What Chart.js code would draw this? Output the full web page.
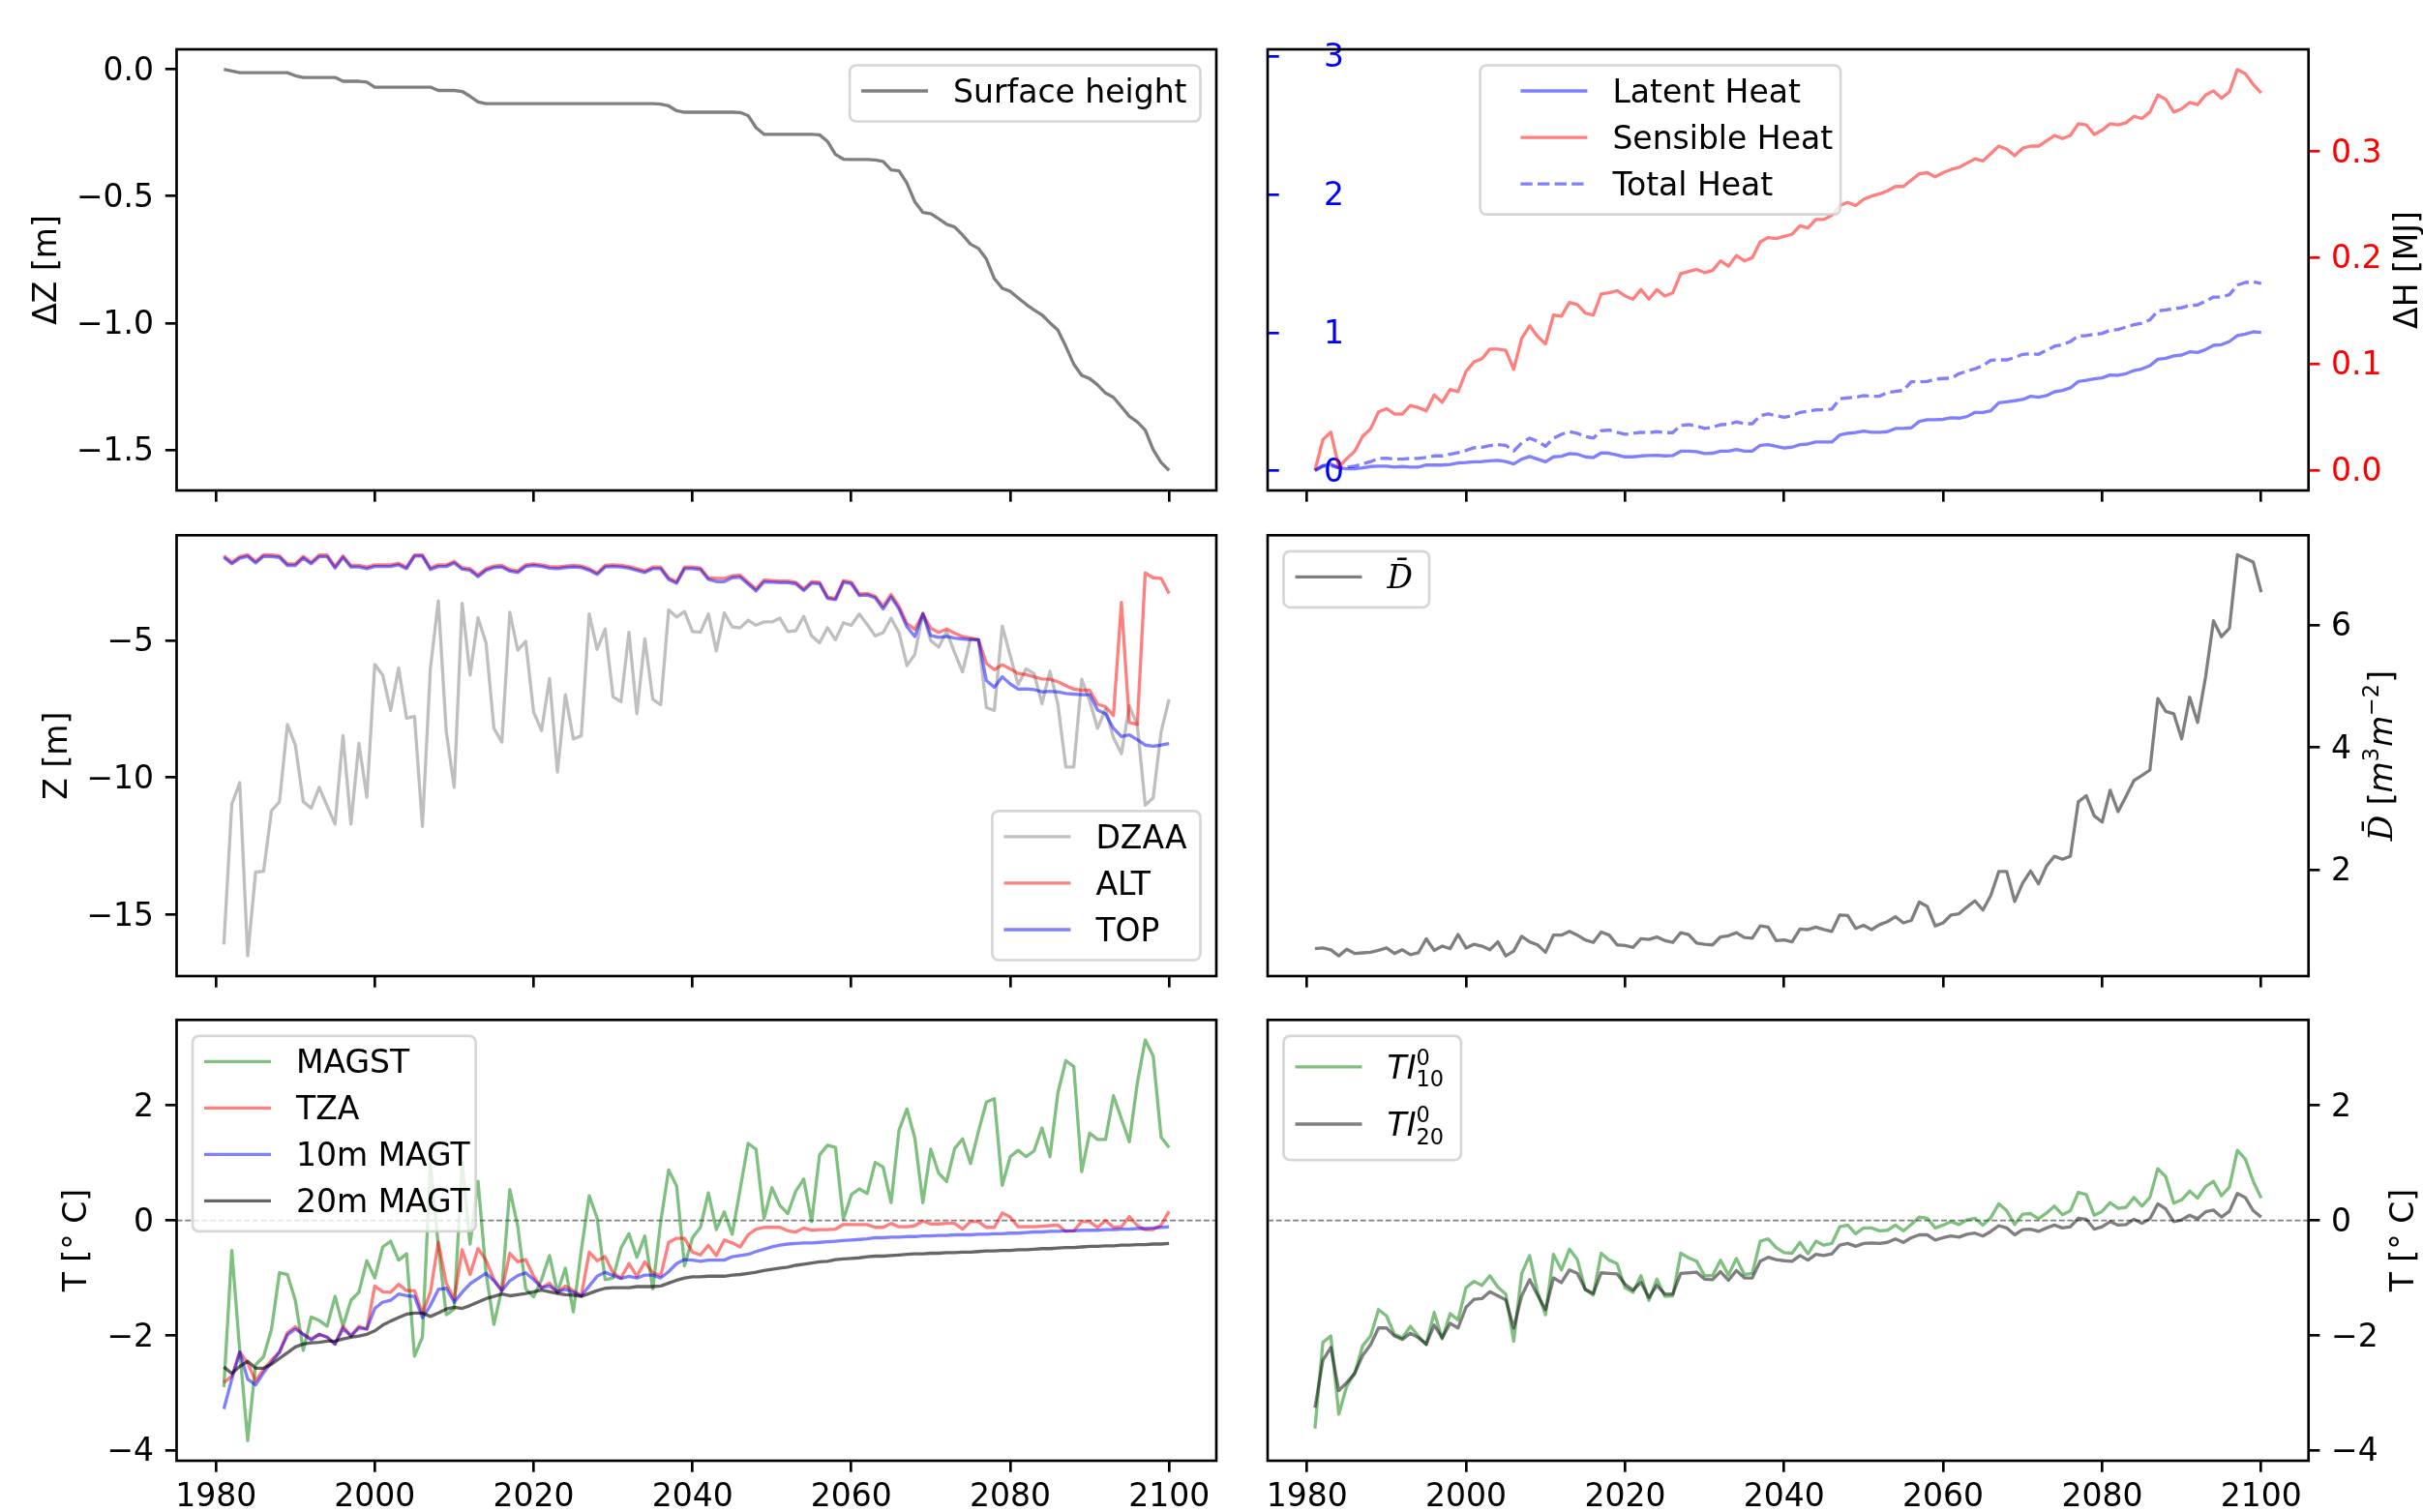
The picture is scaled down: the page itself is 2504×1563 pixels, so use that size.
<!DOCTYPE html>
<html><head><meta charset="utf-8">
<script src="https://cdn.jsdelivr.net/npm/chart.js@4.4.0/dist/chart.umd.min.js"></script>
<style>
html,body{margin:0;padding:0;background:#fff;}
body{width:2504px;height:1563px;position:relative;overflow:hidden;}
canvas{position:absolute;left:0;top:0;}
</style></head><body>
<canvas id="c1" width="2504" height="1563"></canvas>
<canvas id="c2" width="2504" height="1563"></canvas>
<canvas id="c3" width="2504" height="1563"></canvas>
<canvas id="c4" width="2504" height="1563"></canvas>
<canvas id="c5" width="2504" height="1563"></canvas>
<canvas id="c6" width="2504" height="1563"></canvas>
<script>
// ---------------- DATA ----------------
const YEARS = Array.from({length: 120}, (_, i) => 1981 + i);
const X_TICKS = [1980, 2000, 2020, 2040, 2060, 2080, 2100];

const SURFACE = [
0.000,-0.006,-0.013,-0.013,-0.013,-0.013,-0.013,-0.013,-0.013,-0.025,
-0.032,-0.032,-0.032,-0.032,-0.032,-0.047,-0.047,-0.047,-0.050,-0.070,
-0.070,-0.070,-0.070,-0.070,-0.070,-0.070,-0.070,-0.083,-0.083,-0.083,
-0.087,-0.106,-0.128,-0.135,-0.135,-0.135,-0.135,-0.135,-0.135,-0.135,
-0.135,-0.135,-0.135,-0.135,-0.135,-0.135,-0.135,-0.135,-0.135,-0.135,
-0.135,-0.135,-0.135,-0.135,-0.135,-0.137,-0.144,-0.163,-0.169,-0.169,
-0.169,-0.169,-0.169,-0.169,-0.169,-0.170,-0.182,-0.230,-0.256,-0.256,
-0.256,-0.256,-0.256,-0.256,-0.256,-0.258,-0.284,-0.335,-0.354,-0.355,
-0.355,-0.355,-0.357,-0.363,-0.396,-0.400,-0.449,-0.523,-0.564,-0.569,
-0.589,-0.611,-0.621,-0.653,-0.689,-0.706,-0.748,-0.825,-0.863,-0.875,
-0.901,-0.926,-0.948,-0.968,-0.999,-1.028,-1.092,-1.162,-1.206,-1.219,
-1.244,-1.276,-1.293,-1.330,-1.368,-1.390,-1.422,-1.499,-1.550,-1.581];

const LATENT = [
0.000,0.0045,0.006,0.0024,0.0015,0.0015,0.0024,0.0036,0.004,0.004,
0.003,0.0036,0.003,0.003,0.005,0.005,0.005,0.0055,0.007,0.0073,
0.008,0.0082,0.009,0.0094,0.0082,0.006,0.0106,0.013,0.0106,0.008,
0.0127,0.0133,0.0158,0.0152,0.0127,0.012,0.0164,0.0161,0.0145,0.0127,
0.0127,0.0136,0.0139,0.0142,0.0136,0.0139,0.018,0.018,0.0176,0.0158,
0.0161,0.018,0.018,0.0197,0.018,0.018,0.0236,0.0242,0.0227,0.021,
0.0218,0.0242,0.0248,0.0267,0.0267,0.0267,0.0333,0.0348,0.0355,0.037,
0.0358,0.0358,0.0364,0.0394,0.0394,0.04,0.046,0.0476,0.0476,0.048,
0.0494,0.0491,0.0506,0.0545,0.0545,0.056,0.0636,0.0645,0.0655,0.0667,
0.0697,0.0688,0.0703,0.0739,0.0752,0.0776,0.0836,0.0848,0.0861,0.087,
0.0897,0.0894,0.0909,0.0939,0.0955,0.0985,0.1045,0.1055,0.1076,0.1085,
0.1115,0.1109,0.1136,0.1176,0.1182,0.1212,0.1267,0.1282,0.1303,0.1297];

const SENSIBLE = [
0.000,0.029,0.036,0.003,0.011,0.018,0.032,0.039,0.055,0.058,
0.053,0.053,0.061,0.059,0.056,0.071,0.064,0.076,0.074,0.093,
0.102,0.105,0.114,0.114,0.113,0.095,0.124,0.136,0.126,0.119,
0.146,0.145,0.158,0.156,0.148,0.146,0.166,0.167,0.169,0.164,
0.161,0.170,0.161,0.170,0.164,0.167,0.185,0.187,0.189,0.186,
0.188,0.197,0.192,0.202,0.197,0.200,0.215,0.219,0.218,0.220,
0.222,0.230,0.228,0.236,0.236,0.240,0.249,0.252,0.249,0.255,
0.258,0.260,0.263,0.267,0.267,0.273,0.279,0.280,0.276,0.280,
0.283,0.285,0.289,0.293,0.291,0.298,0.305,0.302,0.296,0.303,
0.305,0.305,0.310,0.315,0.312,0.315,0.326,0.325,0.316,0.320,
0.326,0.325,0.327,0.333,0.331,0.337,0.353,0.349,0.337,0.340,
0.346,0.344,0.353,0.357,0.350,0.356,0.377,0.373,0.363,0.355];

const TOTAL = [
0.000,0.0039,0.0045,0.0024,0.003,0.0039,0.006,0.0082,0.0112,0.0115,
0.0106,0.0106,0.0112,0.0112,0.0121,0.0136,0.0136,0.0152,0.0167,0.0188,
0.0212,0.0218,0.0233,0.0242,0.0236,0.0182,0.0258,0.0303,0.0273,0.0227,
0.0303,0.0339,0.0364,0.0348,0.0318,0.0303,0.0373,0.0379,0.0358,0.0339,
0.0348,0.0358,0.0355,0.0364,0.0355,0.0355,0.0424,0.043,0.0418,0.0394,
0.0406,0.043,0.0433,0.0455,0.0439,0.0439,0.0515,0.053,0.0515,0.05,
0.0515,0.0545,0.0555,0.057,0.057,0.0576,0.0673,0.0682,0.0688,0.0703,
0.0697,0.0697,0.0733,0.0742,0.0752,0.0833,0.0833,0.0836,0.0858,0.0864,
0.0867,0.0909,0.0933,0.0955,0.0985,0.1036,0.1039,0.1039,0.1061,0.1091,
0.1097,0.1091,0.113,0.1167,0.1182,0.1212,0.1264,0.1267,0.1279,0.1288,
0.1318,0.1324,0.1348,0.137,0.1385,0.1415,0.150,0.1509,0.1521,0.153,
0.1552,0.1555,0.1591,0.163,0.163,0.1652,0.1742,0.1767,0.1773,0.1758];

const DZAA = [
-16.09,-10.98,-10.19,-16.5,-13.45,-13.42,-11.21,-10.89,-8.07,-8.82,
-10.88,-11.12,-10.36,-11.04,-11.7,-8.47,-11.7,-8.76,-10.72,-5.88,
-6.27,-7.56,-6.01,-7.84,-7.78,-11.78,-6.04,-3.56,-8.33,-10.36,
-3.65,-6.27,-4.18,-5.09,-8.21,-8.71,-3.98,-5.36,-5.04,-7.62,
-8.29,-6.39,-9.8,-6.98,-8.59,-8.48,-4.04,-5.33,-4.59,-7.06,
-7.24,-4.71,-7.68,-4.95,-7.15,-7.35,-3.89,-4.15,-3.95,-4.68,
-4.71,-4.04,-5.39,-4.0,-4.51,-4.55,-4.27,-4.45,-4.33,-4.33,
-4.19,-4.68,-4.65,-4.13,-4.84,-5.09,-4.54,-4.98,-4.36,-4.45,
-4.04,-4.42,-4.84,-4.72,-4.19,-4.72,-5.92,-5.51,-4.0,-5.01,
-5.25,-4.68,-5.45,-6.15,-4.94,-4.98,-7.45,-7.56,-4.48,-5.56,
-6.62,-6.04,-6.21,-7.31,-6.13,-7.33,-9.62,-9.62,-6.42,-7.21,
-8.21,-7.51,-8.56,-9.13,-7.39,-8.09,-11.01,-10.74,-8.33,-7.15];

const ALT = [
-1.92,-2.15,-1.95,-1.88,-2.12,-1.88,-1.89,-1.92,-2.21,-2.21,
-1.94,-2.15,-1.89,-1.89,-2.31,-1.92,-2.27,-2.27,-2.33,-2.25,
-2.25,-2.25,-2.19,-2.33,-1.89,-1.89,-2.36,-2.25,-2.25,-2.12,
-2.35,-2.39,-2.62,-2.39,-2.29,-2.27,-2.42,-2.47,-2.25,-2.21,
-2.25,-2.31,-2.33,-2.29,-2.27,-2.29,-2.39,-2.54,-2.27,-2.25,
-2.27,-2.31,-2.39,-2.47,-2.33,-2.33,-2.72,-2.86,-2.33,-2.33,
-2.36,-2.72,-2.74,-2.74,-2.65,-2.62,-2.88,-3.13,-2.80,-2.82,
-2.84,-2.84,-2.88,-3.13,-2.86,-2.88,-3.42,-3.47,-2.82,-2.88,
-3.31,-3.29,-3.39,-3.76,-3.33,-3.76,-4.39,-4.60,-4.04,-4.56,
-4.71,-4.59,-4.74,-4.86,-4.92,-4.98,-5.84,-6.07,-5.89,-6.04,
-6.21,-6.25,-6.33,-6.41,-6.42,-6.51,-6.65,-6.78,-6.82,-6.82,
-7.33,-7.42,-7.74,-3.62,-8.00,-8.07,-2.54,-2.72,-2.74,-3.29];

const TOP = [
-1.98,-2.21,-2.01,-1.94,-2.18,-1.94,-1.95,-1.98,-2.27,-2.27,
-2.00,-2.21,-1.95,-1.95,-2.37,-1.98,-2.33,-2.33,-2.39,-2.31,
-2.31,-2.31,-2.25,-2.39,-1.93,-1.93,-2.42,-2.31,-2.31,-2.18,
-2.41,-2.45,-2.68,-2.45,-2.35,-2.33,-2.48,-2.53,-2.31,-2.27,
-2.31,-2.37,-2.39,-2.35,-2.33,-2.35,-2.45,-2.60,-2.33,-2.31,
-2.33,-2.37,-2.45,-2.53,-2.39,-2.39,-2.78,-2.92,-2.39,-2.39,
-2.42,-2.78,-2.86,-2.86,-2.72,-2.70,-2.95,-3.20,-2.87,-2.88,
-2.90,-2.90,-2.94,-3.19,-2.92,-2.94,-3.47,-3.52,-2.88,-2.94,
-3.37,-3.35,-3.45,-3.86,-3.42,-3.86,-4.51,-4.86,-4.04,-4.82,
-4.89,-4.86,-4.92,-4.95,-4.98,-4.98,-6.47,-6.71,-6.33,-6.59,
-6.78,-6.77,-6.80,-6.88,-6.86,-6.88,-6.94,-6.96,-6.98,-6.98,
-7.54,-7.68,-8.21,-8.51,-8.45,-8.62,-8.82,-8.86,-8.82,-8.76];

const DBAR = [
0.71,0.72,0.69,0.59,0.70,0.63,0.64,0.65,0.68,0.72,
0.63,0.69,0.61,0.64,0.87,0.68,0.75,0.71,0.94,0.72,
0.78,0.75,0.69,0.82,0.59,0.67,0.91,0.82,0.77,0.65,
0.93,0.93,0.99,0.93,0.85,0.81,0.98,0.93,0.77,0.76,
0.73,0.87,0.86,0.90,0.84,0.81,0.97,0.94,0.80,0.78,
0.77,0.90,0.92,0.97,0.89,0.88,1.08,1.06,0.84,0.85,
0.82,1.03,1.02,1.06,1.02,0.99,1.26,1.25,1.04,1.09,
1.02,1.10,1.15,1.23,1.13,1.17,1.47,1.40,1.08,1.13,
1.26,1.28,1.39,1.49,1.34,1.58,1.97,1.97,1.48,1.78,
1.98,1.77,2.06,2.22,2.17,2.22,3.11,3.21,2.88,2.78,
3.30,2.95,3.20,3.46,3.54,3.63,4.80,4.59,4.55,4.14,
4.82,4.41,5.15,6.07,5.81,5.95,7.15,7.09,7.03,6.54];

const MAGST = [
-2.90,-0.52,-2.26,-3.83,-2.51,-2.37,-1.89,-0.91,-0.94,-1.39,
-2.26,-1.68,-1.74,-1.84,-1.32,-1.84,-1.39,-1.25,-0.70,-1.00,
-0.46,-0.36,-0.69,-0.58,-2.36,-2.03,0.99,-0.44,-1.64,-1.54,
1.02,-0.41,0.68,-0.91,-1.81,-1.19,0.54,-0.10,-1.19,-1.33,
-1.03,-0.61,-1.25,-0.83,-1.59,-0.52,0.43,0.04,-1.03,-1.00,
-0.48,-0.23,-0.64,-0.27,-1.19,-0.02,0.88,0.60,-0.79,-0.30,
-0.12,0.48,-0.16,0.15,-0.24,0.54,1.34,1.24,0.03,0.57,
0.26,0.12,0.51,0.72,-0.02,1.14,1.31,1.27,0.02,0.45,
0.55,0.47,1.01,0.93,0.31,1.57,1.94,1.43,0.31,1.24,
0.82,0.68,1.25,1.42,0.99,1.55,2.06,2.12,0.61,1.11,
1.22,1.11,1.21,1.61,1.11,2.22,2.78,2.68,0.85,1.52,
1.41,1.41,2.17,1.77,1.37,2.39,3.14,2.86,1.45,1.27];

const TZA = [
-2.82,-2.71,-2.29,-2.48,-2.79,-2.59,-2.43,-2.29,-1.95,-1.85,
-1.98,-2.06,-1.98,-2.03,-2.15,-1.84,-2.01,-1.84,-1.89,-1.14,
-1.24,-1.25,-1.11,-1.22,-1.22,-1.62,-1.25,-0.38,-1.09,-1.37,
-0.51,-0.94,-0.49,-0.69,-1.03,-1.22,-0.57,-0.72,-0.68,-0.97,
-1.17,-1.09,-1.25,-1.14,-1.22,-1.31,-0.55,-0.70,-0.63,-0.91,
-1.00,-0.75,-0.97,-0.72,-0.91,-0.96,-0.38,-0.31,-0.31,-0.55,
-0.60,-0.43,-0.61,-0.34,-0.39,-0.46,-0.25,-0.15,-0.12,-0.12,
-0.12,-0.18,-0.20,-0.13,-0.17,-0.16,-0.16,-0.15,-0.07,-0.07,
-0.07,-0.07,-0.12,-0.12,-0.05,-0.11,-0.11,-0.09,-0.01,-0.06,
-0.06,-0.05,-0.05,-0.15,-0.02,-0.02,-0.12,-0.12,0.13,0.06,
-0.11,-0.11,-0.11,-0.10,-0.09,-0.08,-0.19,-0.18,-0.02,-0.02,
-0.12,0.00,-0.12,-0.11,0.07,-0.09,-0.16,-0.16,-0.08,0.16];

const MAGT10 = [
-3.28,-2.76,-2.29,-2.76,-2.86,-2.65,-2.47,-2.29,-1.99,-1.89,
-1.98,-2.08,-1.98,-2.03,-2.15,-1.88,-2.01,-1.87,-1.89,-1.53,
-1.42,-1.39,-1.28,-1.31,-1.32,-1.69,-1.48,-1.20,-1.18,-1.42,
-1.25,-1.10,-1.01,-0.92,-1.05,-1.22,-1.05,-0.96,-0.91,-1.03,
-1.17,-1.14,-1.24,-1.20,-1.25,-1.31,-1.14,-0.97,-0.90,-0.96,
-1.01,-0.97,-1.00,-0.95,-0.95,-1.00,-0.89,-0.75,-0.68,-0.69,
-0.71,-0.69,-0.69,-0.69,-0.63,-0.61,-0.59,-0.54,-0.50,-0.46,
-0.43,-0.41,-0.40,-0.39,-0.39,-0.38,-0.37,-0.36,-0.35,-0.34,
-0.33,-0.32,-0.30,-0.30,-0.29,-0.29,-0.28,-0.28,-0.27,-0.27,
-0.26,-0.26,-0.25,-0.25,-0.25,-0.24,-0.24,-0.23,-0.23,-0.22,
-0.22,-0.21,-0.20,-0.20,-0.19,-0.19,-0.18,-0.18,-0.17,-0.17,
-0.17,-0.16,-0.16,-0.15,-0.15,-0.14,-0.14,-0.13,-0.12,-0.11];

const MAGT20 = [
-2.55,-2.66,-2.54,-2.45,-2.57,-2.57,-2.50,-2.40,-2.30,-2.20,
-2.15,-2.13,-2.12,-2.10,-2.10,-2.06,-2.03,-2.01,-1.98,-1.92,
-1.82,-1.75,-1.69,-1.63,-1.61,-1.61,-1.67,-1.61,-1.54,-1.51,
-1.53,-1.48,-1.42,-1.36,-1.32,-1.28,-1.31,-1.29,-1.27,-1.24,
-1.21,-1.24,-1.27,-1.29,-1.30,-1.32,-1.27,-1.22,-1.18,-1.17,
-1.17,-1.17,-1.15,-1.15,-1.15,-1.14,-1.09,-1.04,-1.00,-0.98,
-0.98,-0.97,-0.97,-0.97,-0.95,-0.94,-0.92,-0.90,-0.87,-0.85,
-0.83,-0.81,-0.78,-0.76,-0.74,-0.72,-0.71,-0.68,-0.67,-0.66,
-0.65,-0.63,-0.62,-0.62,-0.61,-0.60,-0.59,-0.58,-0.58,-0.57,
-0.57,-0.56,-0.56,-0.55,-0.55,-0.54,-0.53,-0.53,-0.52,-0.52,
-0.51,-0.51,-0.50,-0.49,-0.49,-0.48,-0.47,-0.47,-0.46,-0.45,
-0.45,-0.44,-0.44,-0.43,-0.43,-0.42,-0.42,-0.41,-0.41,-0.40];

const TI10 = [
-3.62,-2.12,-2.01,-3.37,-2.88,-2.66,-2.18,-2.01,-1.55,-1.66,
-1.98,-2.04,-1.84,-2.01,-2.16,-1.60,-2.06,-1.62,-1.73,-1.17,
-1.06,-1.13,-0.96,-1.16,-1.28,-2.10,-0.92,-0.61,-1.25,-1.64,
-0.59,-0.86,-0.50,-0.68,-1.20,-1.30,-0.57,-0.69,-0.75,-1.17,
-1.25,-0.96,-1.39,-1.02,-1.32,-1.31,-0.57,-0.65,-0.71,-0.96,
-0.96,-0.69,-0.95,-0.66,-0.94,-0.92,-0.36,-0.32,-0.47,-0.56,
-0.57,-0.38,-0.58,-0.36,-0.43,-0.40,-0.11,-0.08,-0.23,-0.13,
-0.13,-0.18,-0.17,-0.08,-0.18,-0.07,0.06,0.04,-0.13,-0.08,
-0.02,-0.07,0.01,0.04,-0.08,0.05,0.29,0.17,-0.07,0.11,
0.12,0.03,0.13,0.25,0.10,0.17,0.49,0.45,0.09,0.16,
0.31,0.21,0.23,0.40,0.25,0.40,0.90,0.76,0.30,0.36,
0.51,0.39,0.59,0.68,0.43,0.58,1.22,1.07,0.68,0.39];

const TI20 = [
-3.26,-2.43,-2.21,-2.96,-2.82,-2.66,-2.35,-2.16,-1.87,-1.87,
-2.01,-2.07,-1.96,-2.04,-2.15,-1.82,-2.04,-1.79,-1.87,-1.51,
-1.37,-1.36,-1.24,-1.31,-1.38,-1.87,-1.31,-1.03,-1.30,-1.55,
-1.00,-1.08,-0.86,-0.92,-1.20,-1.27,-0.91,-0.92,-0.93,-1.11,
-1.21,-1.08,-1.34,-1.13,-1.28,-1.28,-0.92,-0.91,-0.90,-1.02,
-1.03,-0.89,-1.04,-0.87,-1.00,-1.00,-0.71,-0.64,-0.68,-0.70,
-0.71,-0.61,-0.69,-0.59,-0.61,-0.58,-0.43,-0.40,-0.45,-0.40,
-0.39,-0.40,-0.38,-0.32,-0.38,-0.30,-0.25,-0.25,-0.34,-0.30,
-0.27,-0.29,-0.24,-0.22,-0.27,-0.19,-0.09,-0.13,-0.25,-0.16,
-0.15,-0.19,-0.13,-0.08,-0.13,-0.11,0.04,0.02,-0.15,-0.11,
-0.02,-0.08,-0.07,0.02,-0.05,0.03,0.29,0.20,-0.02,0.01,
0.09,0.03,0.15,0.18,0.06,0.16,0.47,0.40,0.17,0.06];

// tick values / labels
const Y1_TICKS = [0, -0.5, -1, -1.5], Y1_LABELS = ['0.0', '\u22120.5', '\u22121.0', '\u22121.5'];
const Y2B_TICKS = [0, 1, 2, 3], Y2B_LABELS = ['0', '1', '2', '3'];
const Y2R_TICKS = [0, 0.1, 0.2, 0.3], Y2R_LABELS = ['0.0', '0.1', '0.2', '0.3'];
const Y3_TICKS = [-5, -10, -15], Y3_LABELS = ['\u22125', '\u221210', '\u221215'];
const Y4_TICKS = [2, 4, 6], Y4_LABELS = ['2', '4', '6'];
const YT_TICKS = [2, 0, -2, -4], YT_LABELS = ['2', '0', '\u22122', '\u22124'];

// ---------------- STYLE / LAYOUT ----------------
const W = 2504, H = 1563;
const FS = 33, FONT = 'DejaVu Sans';
const LWL = 3.33, LW_AX = 2.67, TL = 11.7, TP = 11.7;
const A_WL = 150, A_WR = 100, A_H = 55;
const X_MIN = 1975.05, X_MAX = 2105.95;
const COL = {
  blue: 'rgba(0,0,255,0.5)', red: 'rgba(255,0,0,0.5)', green: 'rgba(0,128,0,0.5)',
  gray: 'rgba(0,0,0,0.5)', lgray: 'rgba(128,128,128,0.5)', dgray: 'rgba(0,0,0,0.6)', zero: 'rgba(0,0,0,0.5)'
};
const P = {
  L: {l: 182.5, r: 1257}, R: {l: 1310, r: 2385.7},
  top: {t: 51, b: 507}, mid: {t: 553.3, b: 1009}, bot: {t: 1054.3, b: 1510}
};

Chart.defaults.font.family = FONT;
Chart.defaults.font.size = FS;
Chart.defaults.color = '#000';

// ---------------- HELPERS ----------------
function setFont(ctx, g, fs) {
  ctx.font = (g.italic ? 'italic ' : '') + fs + 'px "' + (g.family || FONT) + '"';
}
function segW(ctx, g, fs) {
  if (g.sup != null || g.sub != null) {
    ctx.font = (fs * 0.68) + 'px "' + FONT + '"';
    return Math.max(g.sup ? ctx.measureText(g.sup).width : 0, g.sub ? ctx.measureText(g.sub).width : 0) + 1;
  }
  setFont(ctx, g, fs);
  return ctx.measureText(g.t).width;
}
function richW(ctx, segs, fs) { return segs.reduce((s, g) => s + segW(ctx, g, fs), 0); }
function drawRich(ctx, segs, x, base, fs) {
  let cx = x;
  ctx.textBaseline = 'alphabetic';
  ctx.textAlign = 'left';
  for (const g of segs) {
    const w = segW(ctx, g, fs);
    if (g.sup != null || g.sub != null) {
      ctx.font = (fs * 0.68) + 'px "' + FONT + '"';
      if (g.sup) ctx.fillText(g.sup, cx, base - 0.42 * fs);
      if (g.sub) ctx.fillText(g.sub, cx, base + 0.26 * fs);
    } else {
      setFont(ctx, g, fs);
      ctx.fillText(g.t, cx, base);
    }
    cx += w;
  }
}

function pts(arr) { return YEARS.map((x, i) => ({x, y: arr[i]})); }
function lineDS(label, arr, color, extra) {
  return Object.assign({
    label, data: pts(arr), borderColor: color, backgroundColor: color, borderWidth: LWL,
    pointRadius: 0, pointHoverRadius: 0, fill: false, tension: 0,
    borderJoinStyle: 'round', borderCapStyle: 'butt', yAxisID: 'y'
  }, extra || {});
}
function zeroDS(yAxisID) {
  return {
    label: 'zero', data: [{x: X_MIN, y: 0}, {x: X_MAX, y: 0}], borderColor: COL.zero,
    borderWidth: 1.6, borderDash: [6, 2.7], pointRadius: 0, fill: false, yAxisID: yAxisID || 'y', order: 100
  };
}
function noPad(s) { s.paddingTop = 0; s.paddingBottom = 0; s.paddingLeft = 0; s.paddingRight = 0; }
function xScale(showLabels) {
  return {
    type: 'linear', position: 'bottom', min: X_MIN, max: X_MAX,
    afterBuildTicks: s => { s.ticks = X_TICKS.map(v => ({value: v})); },
    afterFit: s => { s.height = A_H; noPad(s); },
    grid: {display: true, drawOnChartArea: false, drawTicks: true, tickLength: TL, color: '#000', lineWidth: LW_AX},
    border: {display: false},
    ticks: {display: showLabels, padding: 7, maxRotation: 0, minRotation: 0, autoSkip: false,
      color: '#000', font: {size: FS, family: FONT}, callback: v => String(v)}
  };
}
function yScale(position, min, max, ticks, labels, o) {
  o = o || {};
  const w = position === 'left' ? A_WL : A_WR;
  return {
    type: 'linear', position, min, max,
    afterBuildTicks: s => { s.ticks = ticks.map(v => ({value: v})); },
    afterFit: s => { s.width = w; noPad(s); },
    grid: {display: true, drawOnChartArea: false, drawTicks: true, tickLength: o.tickLength != null ? o.tickLength : TL,
      color: o.tickColor || '#000', lineWidth: LW_AX},
    border: {display: false},
    ticks: {padding: o.padding != null ? o.padding : TP, mirror: !!o.mirror, color: o.color || '#000',
      labelOffset: 2.5, font: {size: FS, family: FONT}, autoSkip: false,
      callback: v => { const i = ticks.indexOf(v); return i >= 0 ? labels[i] : ''; }}
  };
}
function layoutPad(col, row, hasLeft, hasRight) {
  return {
    left: col.l - (hasLeft ? A_WL : 0),
    right: W - col.r - (hasRight ? A_WR : 0),
    top: row.t,
    bottom: H - row.b - A_H
  };
}

// legends and axis labels (positions in px)
const LEGENDS = {
  c1: {loc: 'ur', items: [{ds: 0, label: [{t: 'Surface height'}]}]},
  c2: {loc: 'ul', dx: 219.6, padL: 41.8, padR: 8, items: [
    {ds: 0, label: [{t: 'Latent Heat'}]}, {ds: 1, label: [{t: 'Sensible Heat'}]}, {ds: 2, label: [{t: 'Total Heat'}]}]},
  c3: {loc: 'lr', items: [
    {ds: 0, label: [{t: 'DZAA'}]}, {ds: 1, label: [{t: 'ALT'}]}, {ds: 2, label: [{t: 'TOP'}]}]},
  c4: {loc: 'ul', padR: 17, items: [{ds: 0, label: [{t: 'D\u0304', italic: true, family: 'DejaVu Serif'}]}]},
  c5: {loc: 'ul', padR: 6, items: [
    {ds: 0, label: [{t: 'MAGST'}]}, {ds: 1, label: [{t: 'TZA'}]},
    {ds: 2, label: [{t: '10m MAGT'}]}, {ds: 3, label: [{t: '20m MAGT'}]}]},
  c6: {loc: 'ul', rowH: 42.5, padR: 17, items: [
    {ds: 0, label: [{t: 'TI', italic: true}, {sup: '0', sub: '10'}]},
    {ds: 1, label: [{t: 'TI', italic: true}, {sup: '0', sub: '20'}]}]}
};
const YLABELS = {
  c1: [{x: 46, segs: [{t: '\u0394Z [m]'}]}],
  c2: [{x: 2486, segs: [{t: '\u0394H [MJ]'}]}],
  c3: [{x: 57, segs: [{t: 'Z [m]'}]}],
  c4: [{x: 2460, segs: [{t: 'D\u0304', italic: true, family: 'DejaVu Serif'}, {t: ' ['}, {t: 'm', italic: true}, {sup: '3'},
                        {t: 'm', italic: true}, {sup: '\u22122'}, {t: ']'}]}],
  c5: [{x: 77, segs: [{t: 'T [\u00b0 C]'}]}],
  c6: [{x: 2482, segs: [{t: 'T [\u00b0 C]'}]}]
};

const framePlugin = {
  id: 'mplFrame',
  afterDatasetsDraw(chart) {
    const {ctx, chartArea: a} = chart;
    ctx.save();
    ctx.strokeStyle = '#000';
    ctx.lineWidth = LW_AX;
    ctx.strokeRect(a.left, a.top, a.right - a.left, a.bottom - a.top);
    ctx.restore();
  }
};
const legendPlugin = {
  id: 'mplLegend',
  afterDraw(chart) {
    const o = LEGENDS[chart.canvas.id];
    if (!o) return;
    const {ctx, chartArea: a} = chart;
    const fs = FS;
    ctx.save();
    const textW = Math.max(...o.items.map(it => richW(ctx, it.label, fs)));
    const padL = o.padL != null ? o.padL : 12, hl = 69, gap = 26, padR = o.padR != null ? o.padR : 14;
    const rowH = o.rowH || 31.4, bp = 13.3, sp = 16.65, axPad = 16.5;
    const n = o.items.length;
    const w = padL + hl + gap + textW + padR;
    const h = 2 * bp + n * rowH + (n - 1) * sp;
    let x, y;
    if (o.loc === 'ur') { x = a.right - axPad - w; y = a.top + axPad; }
    else if (o.loc === 'lr') { x = a.right - axPad - w; y = a.bottom - axPad - h; }
    else { x = a.left + axPad; y = a.top + axPad; }
    if (o.dx != null) x = a.left + o.dx;
    const r = 6.5;
    ctx.beginPath();
    ctx.moveTo(x + r, y); ctx.lineTo(x + w - r, y); ctx.arcTo(x + w, y, x + w, y + r, r);
    ctx.lineTo(x + w, y + h - r); ctx.arcTo(x + w, y + h, x + w - r, y + h, r);
    ctx.lineTo(x + r, y + h); ctx.arcTo(x, y + h, x, y + h - r, r);
    ctx.lineTo(x, y + r); ctx.arcTo(x, y, x + r, y, r);
    ctx.closePath();
    ctx.fillStyle = 'rgba(255,255,255,0.8)';
    ctx.fill();
    ctx.strokeStyle = 'rgba(204,204,204,0.8)';
    ctx.lineWidth = LW_AX;
    ctx.stroke();
    o.items.forEach((it, i) => {
      const ds = chart.data.datasets[it.ds];
      const cy = y + bp + rowH / 2 + i * (rowH + sp) - 2.5;
      ctx.beginPath();
      ctx.moveTo(x + padL, cy); ctx.lineTo(x + padL + hl, cy);
      ctx.strokeStyle = ds.borderColor;
      ctx.lineWidth = ds.borderWidth;
      ctx.lineCap = 'butt';
      ctx.setLineDash(ds.borderDash || []);
      ctx.stroke();
      ctx.setLineDash([]);
      ctx.fillStyle = '#000';
      drawRich(ctx, it.label, x + padL + hl + gap, cy + 0.365 * fs, fs);
    });
    ctx.restore();
  }
};
const labelPlugin = {
  id: 'mplYLabels',
  afterDraw(chart) {
    const list = YLABELS[chart.canvas.id];
    if (!list) return;
    const {ctx, chartArea: a} = chart;
    const cy = (a.top + a.bottom) / 2;
    list.forEach(L => {
      ctx.save();
      ctx.translate(L.x, cy);
      ctx.rotate(-Math.PI / 2);
      ctx.fillStyle = '#000';
      const w = richW(ctx, L.segs, FS);
      drawRich(ctx, L.segs, -w / 2, 0.35 * FS, FS);
      ctx.restore();
    });
  }
};
const PLUGINS = [framePlugin, legendPlugin, labelPlugin];

function opts(col, row, hasLeft, hasRight, scales) {
  return {
    responsive: false, animation: false, devicePixelRatio: 1, events: [],
    layout: {padding: layoutPad(col, row, hasLeft, hasRight)},
    scales,
    plugins: {legend: {display: false}, tooltip: {enabled: false}, title: {display: false}}
  };
}
function ordered(list) { const n = list.length; list.forEach((d, i) => { if (d.order == null) d.order = n - i; }); return list; }

// ---------------- CHARTS ----------------
new Chart(document.getElementById('c1'), {
  type: 'line',
  data: {datasets: ordered([lineDS('Surface height', SURFACE, COL.gray)])},
  options: opts(P.L, P.top, true, false, {
    x: xScale(false),
    y: yScale('left', -1.660, 0.079, Y1_TICKS, Y1_LABELS)
  }),
  plugins: PLUGINS
});

new Chart(document.getElementById('c2'), {
  type: 'line',
  data: {datasets: ordered([
    lineDS('Latent Heat', LATENT, COL.blue, {yAxisID: 'yR'}),
    lineDS('Sensible Heat', SENSIBLE, COL.red, {yAxisID: 'yR'}),
    lineDS('Total Heat', TOTAL, COL.blue, {yAxisID: 'yR', borderDash: [12.3, 5.3]})
  ])},
  options: opts(P.R, P.top, true, true, {
    x: xScale(false),
    yB: yScale('left', -0.142, 3.05, Y2B_TICKS, Y2B_LABELS, {mirror: true, padding: 58, tickLength: -TL, color: '#0000ff', tickColor: '#0000ff'}),
    yR: yScale('right', -0.0189, 0.396, Y2R_TICKS, Y2R_LABELS, {color: '#ff0000', tickColor: '#ff0000'})
  }),
  plugins: PLUGINS
});

new Chart(document.getElementById('c3'), {
  type: 'line',
  data: {datasets: ordered([
    lineDS('DZAA', DZAA, COL.lgray),
    lineDS('ALT', ALT, COL.red),
    lineDS('TOP', TOP, COL.blue)
  ])},
  options: opts(P.L, P.mid, true, false, {
    x: xScale(false),
    y: yScale('left', -17.24, -1.17, Y3_TICKS, Y3_LABELS)
  }),
  plugins: PLUGINS
});

new Chart(document.getElementById('c4'), {
  type: 'line',
  data: {datasets: ordered([lineDS('D', DBAR, COL.gray)])},
  options: opts(P.R, P.mid, false, true, {
    x: xScale(false),
    y: yScale('right', 0.26, 7.47, Y4_TICKS, Y4_LABELS)
  }),
  plugins: PLUGINS
});

new Chart(document.getElementById('c5'), {
  type: 'line',
  data: {datasets: ordered([
    lineDS('MAGST', MAGST, COL.green),
    lineDS('TZA', TZA, COL.red),
    lineDS('10m MAGT', MAGT10, COL.blue),
    lineDS('20m MAGT', MAGT20, COL.dgray),
    zeroDS('y')
  ])},
  options: opts(P.L, P.bot, true, false, {
    x: xScale(true),
    y: yScale('left', -4.18, 3.49, YT_TICKS, YT_LABELS)
  }),
  plugins: PLUGINS
});

new Chart(document.getElementById('c6'), {
  type: 'line',
  data: {datasets: ordered([
    lineDS('TI10', TI10, COL.green),
    lineDS('TI20', TI20, COL.gray),
    zeroDS('y')
  ])},
  options: opts(P.R, P.bot, false, true, {
    x: xScale(true),
    y: yScale('right', -4.18, 3.49, YT_TICKS, YT_LABELS)
  }),
  plugins: PLUGINS
});
</script>
</body></html>
